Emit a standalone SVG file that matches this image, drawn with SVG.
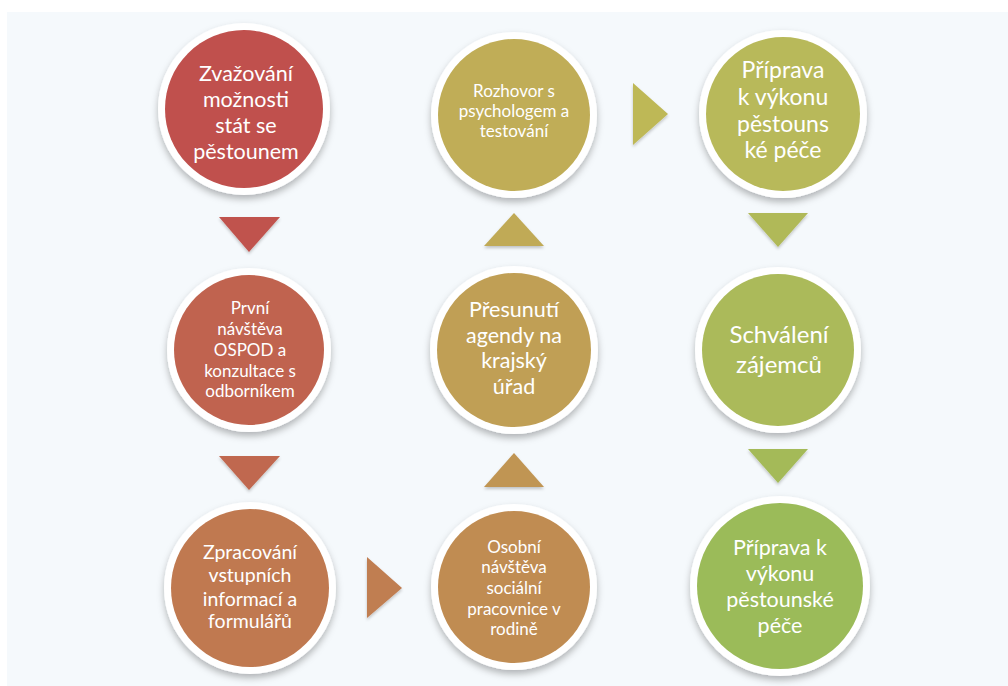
<svg xmlns="http://www.w3.org/2000/svg" width="1008" height="686" viewBox="0 0 1008 686">
<defs>
<filter id="sh" x="-20%" y="-20%" width="140%" height="145%">
<feDropShadow dx="0" dy="4" stdDeviation="3.5" flood-color="#000" flood-opacity="0.28"/>
</filter>
<filter id="tsh" x="-20%" y="-20%" width="140%" height="150%">
<feDropShadow dx="0" dy="2" stdDeviation="1.5" flood-color="#000" flood-opacity="0.22"/>
</filter>
</defs>
<style>
.ring{fill:#ffffff;filter:url(#sh)}
.t{font-family:Lato,"Liberation Sans",sans-serif;fill:#ffffff;text-anchor:middle}
.arr{filter:url(#tsh)}
</style>
<rect x="0" y="0" width="1008" height="686" fill="#ffffff"/>
<rect x="7" y="12" width="1001" height="674" fill="#F5F9FC"/>

<g id="connectors">
<polygon class="arr" points="219,217 280,217 249,252" fill="#C0534D"/>
<polygon class="arr" points="219,456 280,456 249,490" fill="#C0684F"/>
<polygon class="arr" points="367,557 367,618 402,588" fill="#C07E51"/>
<polygon class="arr" points="514,453 544,487 484,487" fill="#C09553"/>
<polygon class="arr" points="514,213 544,246 484,246" fill="#C0AA56"/>
<polygon class="arr" points="633,83 633,145 668,114" fill="#BEB857"/>
<polygon class="arr" points="748,213 808,213 778,247" fill="#B0B959"/>
<polygon class="arr" points="748,449 808,449 778,483" fill="#A4BA59"/>
</g>

<g id="n1">
<circle class="ring" cx="244" cy="109" r="86"/>
<circle cx="244" cy="109" r="79" fill="#C0504D"/>
<text class="t" font-size="21.5"><tspan x="246" y="81">Zvažování</tspan><tspan x="246" y="107">možnosti</tspan><tspan x="246" y="133">stát se</tspan><tspan x="246" y="159">pěstounem</tspan></text>
</g>
<g id="n2">
<circle class="ring" cx="249" cy="350" r="82"/>
<circle cx="249" cy="350" r="75" fill="#C0634F"/>
<text class="t" font-size="17"><tspan x="250" y="314">První</tspan><tspan x="250" y="335">návštěva</tspan><tspan x="250" y="356">OSPOD a</tspan><tspan x="250" y="377">konzultace s</tspan><tspan x="250" y="397">odborníkem</tspan></text>
</g>
<g id="n3">
<circle class="ring" cx="250" cy="588" r="86"/>
<circle cx="250" cy="588" r="79" fill="#C07950"/>
<text class="t" font-size="19.5"><tspan x="250" y="559">Zpracování</tspan><tspan x="250" y="582">vstupních</tspan><tspan x="250" y="606">informací a</tspan><tspan x="250" y="628">formulářů</tspan></text>
</g>
<g id="n4">
<circle class="ring" cx="514" cy="115" r="83"/>
<circle cx="514" cy="115" r="76" fill="#C0AD57"/>
<text class="t" font-size="17"><tspan x="514" y="97">Rozhovor s</tspan><tspan x="514" y="117">psychologem a</tspan><tspan x="514" y="137">testování</tspan></text>
</g>
<g id="n5">
<circle class="ring" cx="514" cy="350" r="84"/>
<circle cx="514" cy="350" r="77" fill="#C09F55"/>
<text class="t" font-size="21.5"><tspan x="514" y="317">Přesunutí</tspan><tspan x="514" y="343">agendy na</tspan><tspan x="514" y="368">krajský</tspan><tspan x="514" y="394">úřad</tspan></text>
</g>
<g id="n6">
<circle class="ring" cx="514" cy="587" r="83"/>
<circle cx="514" cy="587" r="76" fill="#C08C52"/>
<text class="t" font-size="17"><tspan x="514" y="553">Osobní</tspan><tspan x="514" y="573">návštěva</tspan><tspan x="514" y="594">sociální</tspan><tspan x="514" y="615">pracovnice v</tspan><tspan x="514" y="635">rodině</tspan></text>
</g>
<g id="n7">
<circle class="ring" cx="783" cy="114" r="84"/>
<circle cx="783" cy="114" r="77" fill="#B8B95A"/>
<text class="t" font-size="23"><tspan x="783" y="78">Příprava</tspan><tspan x="783" y="105">k výkonu</tspan><tspan x="783" y="132">pěstouns</tspan><tspan x="783" y="158">ké péče</tspan></text>
</g>
<g id="n8">
<circle class="ring" cx="778" cy="350" r="83"/>
<circle cx="778" cy="350" r="76" fill="#ABBA5A"/>
<text class="t" font-size="24"><tspan x="779" y="343">Schválení</tspan><tspan x="779" y="373">zájemců</tspan></text>
</g>
<g id="n9">
<circle class="ring" cx="780" cy="586" r="90"/>
<circle cx="780" cy="586" r="83" fill="#9BBB59"/>
<text class="t" font-size="21.5"><tspan x="780" y="555">Příprava k</tspan><tspan x="780" y="581">výkonu</tspan><tspan x="780" y="607">pěstounské</tspan><tspan x="780" y="633">péče</tspan></text>
</g>
</svg>
